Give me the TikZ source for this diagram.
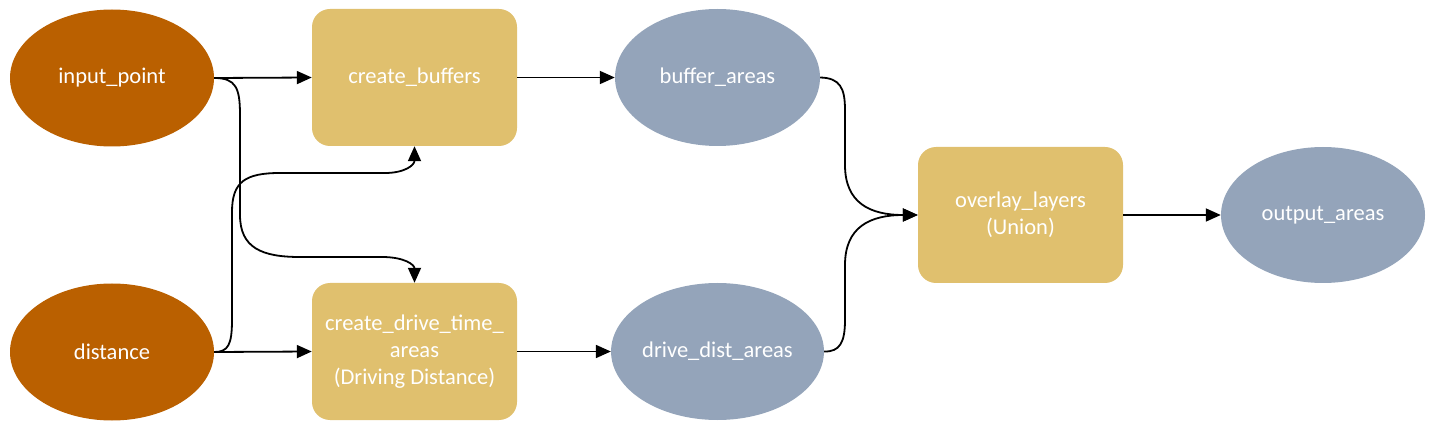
\documentclass[tikz,border=0pt]{standalone}
\usepackage{fontspec}
\setmainfont{Carlito}
\usetikzlibrary{shapes.geometric,arrows.meta}
\definecolor{inc}{HTML}{BA6000}
\definecolor{procc}{HTML}{E0C06E}
\definecolor{outc}{HTML}{94A4BA}
\tikzset{
  base/.style={text=white, inner sep=0pt, align=center, font=\fontsize{22.5}{27}\selectfont},
  inell/.style={base, ellipse, fill=inc, minimum width=204pt, minimum height=137pt},
  outell/.style={base, ellipse, fill=outc, minimum width=205pt, minimum height=137pt},
  procbox/.style={base, rectangle, rounded corners=18pt, fill=procc, minimum width=205pt, minimum height=137pt},
  arr/.style={line width=1.8pt, -{Triangle[length=15pt,width=13pt]}}
}
\begin{document}
\begin{tikzpicture}[x=1pt,y=-1pt]
\useasboundingbox (0,0) rectangle (1435,430);
\node[inell] (ip) at (112,78) {input\_point};
\node[inell] (dist) at (112,352) {distance};
\node[procbox] (cb) at (414.5,77.5) {create\_buffers};
\node[procbox] (cd) at (414.5,351.5) {create\_drive\_time\_\\areas\\(Driving Distance)};
\node[outell] (ba) at (717.5,77.5) {buffer\_areas};
\node[outell] (dd) at (717.5,351.5) {drive\_dist\_areas};
\node[procbox, minimum height=136pt] (ol) at (1020.5,215) {overlay\_layers\\(Union)};
\node[outell, minimum width=204pt, minimum height=136pt] (oa) at (1323,215) {output\_areas};

\draw[arr] (ip.east) -- (cb.west);
\draw[arr] (dist.east) -- (cd.west);
\draw[arr] (cb.east) -- (ba.west);
\draw[arr] (cd.east) -- (dd.west);
\draw[arr] (ol.east) -- (oa.west);

\draw[arr] (ip.east) .. controls (236,78) and (240,88) .. (240,115)
  -- (240,215) .. controls (240,248) and (262,257) .. (300,257)
  -- (382,257) .. controls (405,257) and (414.5,265) .. (cd.north);
\draw[arr] (dist.east) .. controls (228,352) and (232,345) .. (232,320)
  -- (232,212) .. controls (232,182) and (245,173) .. (280,173)
  -- (385,173) .. controls (405,173) and (414.5,165) .. (cb.south);

\draw[arr] (ba.east) .. controls (840,78) and (845,88) .. (845,110)
  -- (845,165) .. controls (845,203) and (870,215) .. (ol.west);
\draw[arr] (dd.east) .. controls (840,352) and (845,342) .. (845,320)
  -- (845,265) .. controls (845,227) and (870,215) .. (ol.west);
\end{tikzpicture}
\end{document}
